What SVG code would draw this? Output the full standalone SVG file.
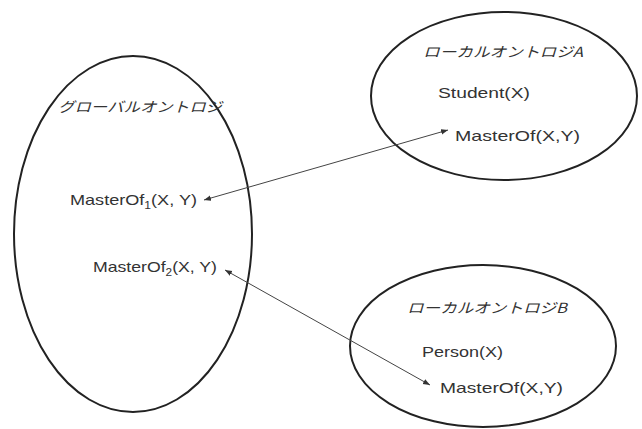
<svg xmlns="http://www.w3.org/2000/svg" width="642" height="429" viewBox="0 0 642 429">
<style>
.ell{fill:#fff;stroke:#222;stroke-width:2}
.t{font-family:"Liberation Sans",Arial,sans-serif;font-size:15px;fill:#333}
.jp{font-family:"Noto Sans CJK JP","Noto Sans",sans-serif;font-size:14px;font-style:italic;fill:#333}
.c{stroke:#444;stroke-width:1;fill:none}
</style>
<defs>
<marker id="ah" viewBox="0 0 10 10" refX="10" refY="5" markerWidth="7" markerHeight="7" orient="auto-start-reverse" markerUnits="userSpaceOnUse">
<path d="M0,1 L10,5 L0,9 z" fill="#333"/>
</marker>
</defs>
<rect width="642" height="429" fill="#fff"/>
<g id="global">
<ellipse class="ell" cx="133" cy="234" rx="119" ry="178"/>
<text class="jp" x="58" y="112" textLength="164" lengthAdjust="spacingAndGlyphs">グローバルオントロジ</text>
<text class="t" x="70" y="205" textLength="127" lengthAdjust="spacingAndGlyphs">MasterOf<tspan font-size="10" dy="4">1</tspan><tspan dy="-4">(X, Y)</tspan></text>
<text class="t" x="93" y="272" textLength="124" lengthAdjust="spacingAndGlyphs">MasterOf<tspan font-size="10" dy="4">2</tspan><tspan dy="-4">(X, Y)</tspan></text>
</g>
<g id="localA">
<ellipse class="ell" cx="504" cy="96" rx="133" ry="84"/>
<text class="jp" x="423" y="57" textLength="160" lengthAdjust="spacingAndGlyphs">ローカルオントロジA</text>
<text class="t" x="438" y="98" textLength="92" lengthAdjust="spacingAndGlyphs">Student(X)</text>
<text class="t" x="455" y="141" textLength="125" lengthAdjust="spacingAndGlyphs">MasterOf(X,Y)</text>
</g>
<g id="localB">
<ellipse class="ell" cx="483" cy="346" rx="133" ry="81"/>
<text class="jp" x="407" y="313" textLength="160" lengthAdjust="spacingAndGlyphs">ローカルオントロジB</text>
<text class="t" x="422" y="357" textLength="81" lengthAdjust="spacingAndGlyphs">Person(X)</text>
<text class="t" x="440" y="393" textLength="123" lengthAdjust="spacingAndGlyphs">MasterOf(X,Y)</text>
</g>
<g id="connectors">
<line class="c" x1="204" y1="200" x2="448" y2="130" marker-start="url(#ah)" marker-end="url(#ah)"/>
<line class="c" x1="225" y1="270" x2="430" y2="385" stroke="#666" stroke-width="1.5" marker-start="url(#ah)" marker-end="url(#ah)"/>
</g>
</svg>
